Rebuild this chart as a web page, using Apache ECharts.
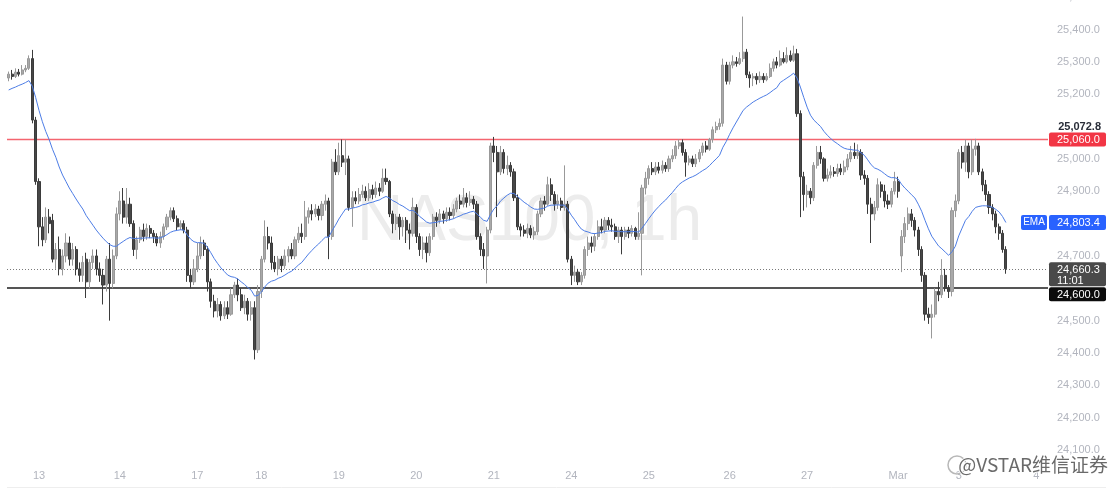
<!DOCTYPE html>
<html>
<head>
<meta charset="utf-8">
<script src="https://cdn.jsdelivr.net/npm/echarts@6/dist/echarts.min.js"></script>
<style>
html,body{margin:0;padding:0;background:#fff;}
#chart{width:1119px;height:497px;}
</style>
</head>
<body>
<div id="chart"></div>
<script>
// ---- DATA ----
// hourly candles: [open, close, low, high]
const candles = [
[25250,25262,25240,25270],[25262,25255,25245,25275],[25255,25268,25250,25280],[25268,25262,25255,25278],[25262,25275,25258,25290],
[25275,25280,25268,25290],[25280,25310,25275,25320],[25310,25120,25110,25337],[25120,24930,24920,25130],[24930,24790,24730,24940],
[24790,24750,24730,24820],[24750,24820,24740,24850],[24820,24800,24770,24845],[24810,24690,24680,24830],[24690,24720,24660,24740],
[24720,24660,24640,24760],[24660,24700,24640,24720],[24700,24740,24680,24770],[24740,24690,24670,24760],[24690,24720,24670,24740],
[24720,24660,24640,24730],[24660,24640,24620,24680],[24640,24680,24620,24700],[24690,24620,24570,24710],[24620,24680,24600,24690],
[24680,24700,24660,24720],[24700,24660,24640,24720],[24660,24640,24620,24680],[24640,24610,24550,24660],[24610,24690,24590,24700],
[24690,24615,24500,24740],[24615,24700,24600,24720],[24700,24830,24690,24850],[24830,24870,24810,24900],[24870,24820,24800,24910],
[24820,24860,24800,24910],[24860,24800,24790,24880],[24800,24720,24700,24810],[24720,24750,24690,24760],[24750,24780,24740,24790],
[24780,24760,24745,24800],[24760,24785,24750,24800],[24785,24770,24755,24795],[24770,24760,24740,24780],[24760,24740,24730,24770],
[24740,24760,24725,24775],[24760,24790,24750,24800],[24790,24820,24780,24830],[24820,24840,24810,24850],[24840,24815,24805,24850],
[24815,24790,24780,24825],[24790,24800,24780,24810],[24800,24780,24770,24810],[24780,24640,24620,24790],[24640,24620,24600,24660],
[24620,24660,24610,24690],[24660,24700,24650,24740],[24700,24740,24690,24760],[24740,24720,24700,24750],[24720,24620,24590,24730],
[24620,24560,24540,24630],[24560,24530,24510,24580],[24530,24550,24510,24570],[24550,24515,24500,24560],[24515,24540,24505,24560],
[24540,24520,24505,24560],[24520,24580,24515,24600],[24580,24610,24570,24620],[24610,24580,24560,24630],[24580,24540,24530,24600],
[24540,24560,24520,24580],[24560,24520,24500,24570],[24520,24540,24500,24560],[24540,24410,24380,24560],[24410,24590,24400,24610],
[24590,24690,24570,24700],[24690,24760,24680,24810],[24760,24740,24720,24790],[24740,24680,24660,24760],[24680,24660,24650,24700],
[24660,24690,24640,24700],[24690,24670,24650,24700],[24670,24700,24660,24720],[24700,24720,24680,24730],[24720,24700,24690,24740],
[24700,24750,24690,24760],[24750,24770,24740,24790],[24770,24760,24740,24800],[24760,24820,24750,24870],[24820,24840,24800,24850],
[24840,24830,24810,24860],[24830,24845,24820,24860],[24845,24825,24810,24855],[24825,24860,24810,24870],[24860,24870,24840,24890],
[24870,24760,24690,24880],[24760,24990,24750,25000],[24990,24960,24950,25030],[24960,25010,24950,25050],[25010,24990,24975,25060],
[24990,25000,24950,25060],[25000,24850,24840,25010],[24850,24880,24790,24900],[24880,24870,24860,24900],[24870,24890,24860,24910],
[24890,24900,24880,24920],[24900,24880,24870,24915],[24880,24905,24870,24925],[24905,24890,24875,24920],[24890,24910,24880,24930],
[24910,24900,24885,24925],[24900,24940,24895,24970],[24940,24930,24920,24970],[24930,24830,24820,24935],[24830,24800,24770,24840],
[24800,24820,24780,24830],[24820,24790,24750,24830],[24790,24810,24760,24820],[24810,24780,24740,24820],[24780,24770,24720,24800],
[24770,24850,24760,24880],[24850,24760,24740,24860],[24760,24720,24700,24770],[24720,24740,24690,24760],[24740,24710,24680,24760],
[24710,24760,24700,24770],[24760,24820,24750,24830],[24820,24810,24790,24835],[24810,24830,24800,24845],[24830,24815,24800,24840],
[24815,24835,24805,24850],[24835,24825,24810,24850],[24825,24845,24815,24860],[24845,24870,24835,24880],[24870,24860,24845,24890],
[24860,24880,24850,24910],[24880,24865,24850,24895],[24865,24875,24855,24900],[24875,24860,24845,24885],[24860,24760,24750,24870],
[24760,24720,24700,24770],[24720,24700,24660,24740],[24700,24780,24615,24790],[24780,25040,24770,25050],[25040,25020,24990,25068],
[25020,24960,24820,25040],[24960,25020,24950,25040],[25020,24970,24955,25030],[24970,24980,24950,25010],[24980,24960,24945,24990],
[24960,24880,24870,24970],[24880,24790,24780,24890],[24790,24780,24760,24800],[24780,24770,24760,24795],[24770,24785,24755,24800],
[24785,24765,24755,24795],[24765,24775,24750,24790],[24775,24830,24765,24840],[24830,24870,24820,24880],[24870,24860,24840,24885],
[24860,24920,24855,24945],[24920,24890,24870,24940],[24890,24860,24840,24900],[24860,24870,24845,24890],[24870,24850,24840,24880],
[24850,24860,24840,24980],[24860,24690,24680,24870],[24690,24640,24610,24700],[24640,24650,24620,24670],[24650,24620,24610,24660],
[24620,24640,24610,24650],[24640,24720,24630,24730],[24720,24740,24700,24760],[24740,24730,24710,24760],[24730,24760,24715,24770],
[24760,24790,24750,24810],[24790,24780,24770,24815],[24780,24810,24770,24820],[24810,24795,24780,24820],[24795,24790,24775,24815],
[24790,24760,24750,24800],[24760,24780,24740,24790],[24780,24760,24705,24790],[24760,24780,24750,24790],[24780,24770,24755,24790],
[24770,24785,24760,24795],[24785,24760,24750,24790],[24760,24770,24750,24835],[24770,24910,24640,24920],[24910,24940,24890,24960],
[24940,24970,24920,24980],[24970,24960,24950,24990],[24960,24975,24950,24990],[24975,24965,24955,24990],[24965,24980,24955,24995],
[24980,24970,24960,24990],[24970,25000,24960,25010],[25000,25010,24990,25030],[25010,25040,25000,25055],[25040,25050,25030,25060],
[25050,25020,25010,25060],[25020,24990,24945,25030],[24990,25000,24980,25010],[25000,24985,24975,25010],[24985,25000,24975,25015],
[25000,25020,24990,25030],[25020,25040,25010,25050],[25040,25030,25020,25055],[25030,25060,25025,25065],[25060,25090,25050,25100],
[25090,25100,25080,25115],[25100,25110,25090,25125],[25110,25290,25100,25310],[25290,25240,25230,25300],[25240,25290,25230,25300],
[25290,25300,25280,25320],[25300,25295,25285,25315],[25295,25310,25290,25330],[25310,25330,25300,25440],[25330,25260,25250,25340],
[25260,25250,25220,25270],[25250,25255,25225,25265],[25255,25245,25230,25265],[25245,25255,25235,25270],[25255,25245,25235,25265],
[25245,25255,25240,25265],[25255,25280,25250,25295],[25280,25300,25270,25310],[25300,25290,25280,25315],[25290,25310,25285,25335],
[25310,25300,25295,25330],[25300,25320,25295,25345],[25320,25305,25300,25335],[25305,25325,25300,25350],[25325,25140,25130,25340],
[25140,24945,24820,25150],[24945,24890,24840,24960],[24890,24900,24850,24920],[24900,24880,24860,24910],[24880,24980,24870,24990],
[24980,25020,24970,25040],[25020,25000,24985,25040],[25000,24940,24930,25005],[24940,24950,24930,24970],[24950,24960,24940,24980],
[24960,24955,24945,24975],[24955,24970,24945,24985],[24970,24960,24950,24985],[24960,24975,24950,24995],[24975,25000,24965,25015],
[25000,25020,24990,25040],[25020,25010,25000,25050],[25010,25020,25000,25045],[25020,24950,24935,25030],[24950,24940,24920,24965],
[24940,24860,24830,24950],[24860,24830,24740,24880],[24830,24850,24810,24870],[24850,24920,24840,24940],[24920,24900,24880,24930],
[24900,24870,24850,24920],[24870,24860,24845,24890],[24860,24900,24850,24910],[24900,24930,24890,24960],[24930,24900,24880,24945],
[24700,24760,24650,24780],[24760,24800,24740,24820],[24800,24830,24780,24850],[24830,24810,24790,24845],[24810,24780,24760,24820],
[24780,24720,24700,24790],[24720,24640,24620,24730],[24640,24520,24500,24650],[24520,24510,24490,24540],[24510,24520,24445,24550],
[24520,24590,24510,24600],[24590,24580,24560,24620],[24580,24640,24570,24690],[24640,24600,24590,24660],[24600,24590,24570,24610],
[24590,24840,24575,24850],[24840,24870,24820,24890],[24870,25020,24860,25030],[25020,24990,24970,25040],[24990,25040,24960,25060],
[25040,24960,24940,25050],[24960,25030,24950,25060],[25030,25040,25010,25062],[25040,24960,24950,25050],[24960,24920,24900,24970],
[24920,24890,24870,24935],[24890,24850,24830,24900],[24850,24830,24810,24860],[24830,24790,24770,24840],[24790,24770,24750,24800],
[24770,24720,24710,24780],[24720,24660.3,24645,24730]
];

// EMA values, one per candle
const emaValues = [
25213,25218,25222,25227,25231,25236,25242,25225,25190,25150,
25115,25085,25060,25030,25005,24975,24950,24930,24910,24893,
24876,24860,24845,24825,24810,24795,24780,24767,24755,24744,
24735,24730,24730,24738,24745,24752,24757,24754,24754,24755,
24755,24756,24756,24756,24755,24756,24760,24766,24773,24777,
24779,24781,24780,24765,24752,24744,24741,24741,24739,24727,
24710,24692,24677,24663,24652,24641,24636,24634,24629,24620,
24612,24602,24594,24576,24578,24588,24604,24616,24622,24625,
24631,24635,24641,24648,24653,24662,24672,24680,24693,24706,
24717,24728,24737,24748,24758,24758,24778,24795,24814,24830,
24845,24845,24848,24850,24853,24858,24860,24864,24866,24870,
24873,24879,24884,24879,24871,24866,24859,24854,24847,24840,
24841,24833,24822,24814,24805,24801,24803,24804,24807,24808,
24810,24812,24815,24820,24824,24829,24832,24836,24838,24830,
24820,24810,24807,24828,24845,24855,24870,24879,24888,24894,
24893,24884,24875,24866,24859,24851,24845,24844,24846,24848,
24854,24857,24857,24858,24857,24857,24843,24826,24812,24796,
24783,24777,24774,24770,24769,24771,24772,24776,24777,24778,
24776,24776,24775,24775,24775,24776,24775,24774,24786,24800,
24815,24829,24842,24853,24864,24873,24885,24896,24909,24921,
24929,24935,24941,24945,24950,24957,24964,24970,24979,24990,
25000,25011,25036,25054,25076,25096,25114,25132,25150,25160,
25168,25176,25182,25188,25193,25198,25205,25213,25220,25236,
25243,25250,25257,25265,25250,25222,25190,25160,25135,25120,
25110,25100,25085,25073,25063,25054,25047,25039,25033,25030,
25029,25027,25027,25019,25011,24997,24982,24972,24968,24962,
24954,24946,24942,24942,24938,24922,24910,24900,24889,24879,
24860,24838,24810,24784,24761,24746,24731,24722,24712,24702,
24713,24730,24762,24786,24810,24822,24838,24850,24853,24855,
24855,24854,24850,24844,24836,24822,24803.4
];

// empty future slots to the right of the last candle
const futureSlots = 12;

// time-axis labels: bar index where each day label sits, and its text
const dayTickIndex = [9, 33, 56, 75, 98, 121, 144, 167, 190, 214, 237, 264, 282, 305];
const dayTickLabel = ['13','14','17','18','19','20','21','24','25','26','27','Mar','3','4'];

// price-axis settings
const priceMin = 24000, priceMax = 25500, priceStep = 100;
const hiddenPriceLabels = [24000, 24600, 24800, 25100];

// horizontal levels and price tags
const resistance = 25060.0;
const resistanceNote = 25072.8;
const support = 24600.0;
const lastPrice = 24660.3;
const lastTime = '11:01';
const emaLast = 24803.4;
const symbolText = 'NAS100, 1h';
const creditText = '@VSTAR维信证券';

// ---- CHART ----
const total = candles.length + futureSlots;
const cats = [];
for (let i = 0; i < total; i++) cats.push(String(i));
const labelMap = {};
dayTickIndex.forEach((idx, k) => { labelMap[idx] = dayTickLabel[k]; });
const tickSet = new Set(dayTickIndex);
const hiddenSet = new Set(hiddenPriceLabels);

function fmt(v) {
  const s = Number(v).toFixed(1);
  const parts = s.split('.');
  return parts[0].replace(/\B(?=(\d{3})+(?!\d))/g, ',') + '.' + parts[1];
}

const FONT = 'Liberation Sans, Arial, sans-serif';
const GRID_L = 7, GRID_R = 71, W = 1119;
const chart = echarts.init(document.getElementById('chart'), null, {renderer: 'canvas'});

const option = {
  animation: false,
  backgroundColor: '#ffffff',
  grid: {left: GRID_L, right: GRID_R, top: -2.85, bottom: 14.6, containLabel: false, outerBoundsMode: 'none'},
  xAxis: {
    type: 'category',
    data: cats,
    boundaryGap: true,
    axisLine: {show: false},
    axisTick: {show: false},
    splitLine: {show: false},
    axisLabel: {
      inside: true,
      margin: 1,
      interval: function (i) { return tickSet.has(i); },
      formatter: function (v, i) { return labelMap[i] || ''; },
      color: '#b2b5be',
      fontSize: 11,
      fontFamily: FONT
    }
  },
  yAxis: {
    type: 'value',
    position: 'right',
    min: priceMin,
    max: priceMax,
    interval: priceStep,
    axisLine: {show: false},
    axisTick: {show: false},
    splitLine: {show: false},
    axisLabel: {
      margin: 9,
      color: '#b2b5be',
      fontSize: 11,
      fontFamily: FONT,
      formatter: function (v) { return hiddenSet.has(v) ? '' : fmt(v); }
    }
  },
  series: [
    {
      type: 'candlestick',
      data: candles,
      barWidth: 2.6,
      z: 3,
      itemStyle: {
        color: '#a9a9a9',
        color0: '#474747',
        borderColor: '#999999',
        borderColor0: '#3b3b3b',
        borderWidth: 1
      }
    },
    {
      type: 'line',
      data: emaValues,
      symbol: 'none',
      smooth: false,
      z: 4,
      lineStyle: {color: '#4d7de6', width: 1}
    }
  ]
};
chart.setOption(option);

// levels and price tags, positioned through the chart's own scale
const yR = chart.convertToPixel({yAxisIndex: 0}, resistance);
const yS = chart.convertToPixel({yAxisIndex: 0}, support);
const yL = chart.convertToPixel({yAxisIndex: 0}, lastPrice);
const yE = chart.convertToPixel({yAxisIndex: 0}, emaLast);
const x1 = GRID_L, x2 = W - GRID_R;
const tagX = 1049, tagW = 57, textX = 1057;

function hline(y, color, width, dash, crisp) {
  let yy = y;
  if (crisp) yy = width % 2 === 1 ? Math.round(y) + 0.5 : Math.round(y);
  return {type: 'line', silent: true, z: 2, shape: {x1: x1, y1: yy, x2: x2, y2: yy},
          style: {stroke: color, lineWidth: width, lineDash: dash || null}};
}

function tag(yc, h, fill, lines) {
  const els = [{type: 'rect', shape: {x: tagX, y: yc - h / 2, width: tagW, height: h, r: 2}, style: {fill: fill}, z: 10}];
  lines.forEach(function (t, k) {
    els.push({type: 'text', x: textX, y: yc - h / 2 + 7.5 + k * 11.5, style: {text: t, fill: '#ffffff', font: '11px ' + FONT, verticalAlign: 'middle', align: 'left'}, z: 11});
  });
  return els;
}

let elements = [
  {type: 'text', x: 357, y: 222, z: 0, silent: true,
   style: {text: symbolText, fill: '#ececec', font: '64px ' + FONT, verticalAlign: 'middle', align: 'left'}},
  {type: 'line', shape: {x1: 7, y1: 487.5, x2: 1106, y2: 487.5}, style: {stroke: '#eeeeee', lineWidth: 1}, z: 1},
  hline(yR, '#f4656f', 1.3, null, false),
  hline(yS, '#555555', 2, null, true),
  hline(yL, '#7a7a7a', 1, [1, 2], true),
  {type: 'text', x: 1101, y: yR - 13, z: 11,
   style: {text: fmt(resistanceNote), fill: '#2a2e39', font: 'bold 11px ' + FONT, verticalAlign: 'middle', align: 'right'}}
];
elements = elements.concat(tag(yR, 14, '#f23645', [fmt(resistance)]));
elements = elements.concat(tag(yL + 5.5, 24, '#4a4a4a', [fmt(lastPrice), lastTime]));
elements = elements.concat(tag(yS + 6, 14, '#0c0c0c', [fmt(support)]));
elements = elements.concat(tag(yE, 15, '#2962ff', [fmt(emaLast)]));
elements.push({type: 'rect', shape: {x: 1021, y: yE - 7.5, width: 26, height: 15, r: 2}, style: {fill: '#2962ff'}, z: 10});
elements.push({type: 'text', x: 1034, y: yE, z: 11, style: {text: 'EMA', fill: '#ffffff', font: '10px ' + FONT, verticalAlign: 'middle', align: 'center'}});
// credit watermark
elements.push({type: 'circle', shape: {cx: 957, cy: 465, r: 9}, style: {fill: 'none', stroke: '#b8b8b8', lineWidth: 1.5}, z: 12});
elements.push({type: 'text', x: 1108, y: 465, z: 12,
  style: {text: creditText, fill: '#6a6a6a', font: '19px Noto Sans CJK SC, ' + FONT, verticalAlign: 'middle', align: 'right', stroke: '#ffffff', lineWidth: 2}});

chart.setOption({graphic: {elements: elements}});
</script>
</body>
</html>
